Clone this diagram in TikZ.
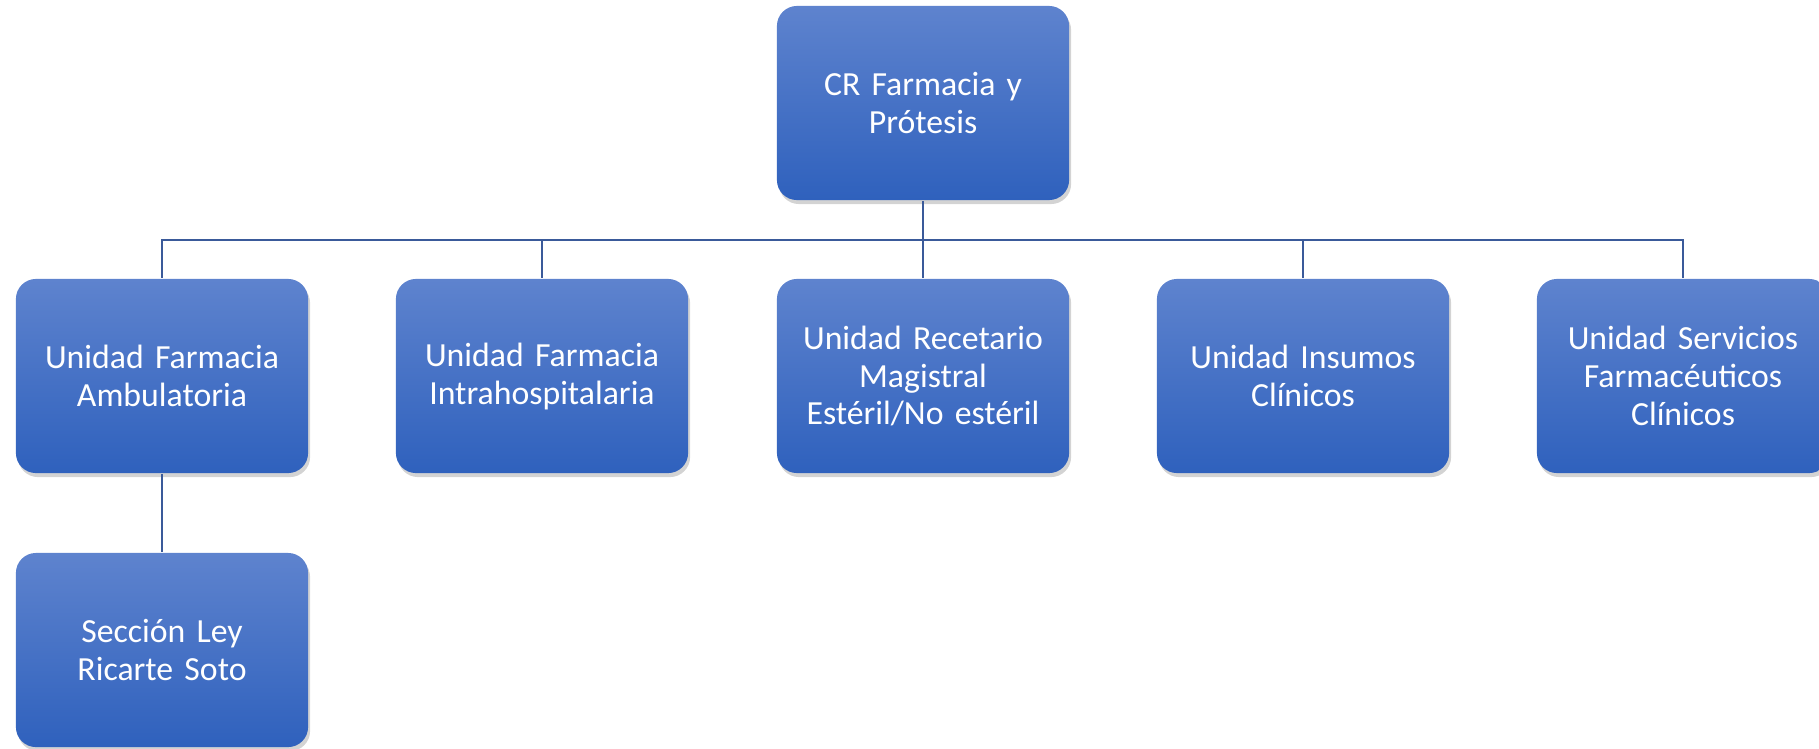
\documentclass[tikz,border=0pt]{standalone}
\usepackage{fontspec}
\setmainfont{Carlito}
\usetikzlibrary{shadows}

\definecolor{boxtop}{RGB}{94,131,206}
\definecolor{boxbot}{RGB}{47,97,189}
\definecolor{linkblue}{RGB}{58,90,154}

\tikzset{
    unitbox/.style={rectangle, rounded corners=0.2cm, inner sep=0pt,
        minimum width=2.92cm, minimum height=1.94cm, text width=2.7cm,
        align=center, top color=boxtop, bottom color=boxbot, text=white,
        font=\fontsize{9.6pt}{10.8pt}\selectfont,
        drop shadow={shadow xshift=0.02cm, shadow yshift=-0.04cm, opacity=0.35}},
    link/.style={draw=linkblue, line width=0.7pt}
}

\begin{document}
\begin{tikzpicture}[x=0.01cm, y=-0.01cm]
    \useasboundingbox (0,0) rectangle (1819,748);

    % head
    \node[unitbox] (cr) at (923,103) {CR Farmacia y\\Prótesis};

    % units
    \node[unitbox] (ufa) at (162,376) {Unidad Farmacia\\Ambulatoria};
    \node[unitbox] (ufi) at (542,376) {Unidad Farmacia\\Intrahospitalaria};
    \node[unitbox] (urm) at (923,376) {Unidad Recetario\\Magistral\\Estéril/No estéril};
    \node[unitbox] (uic) at (1303,376) {Unidad Insumos\\Clínicos};
    \node[unitbox] (usf) at (1683,376) {Unidad Servicios\\Farmacéuticos\\Clínicos};

    % section
    \node[unitbox] (slrs) at (162,650) {Sección Ley\\Ricarte Soto};

    % links
    \coordinate (bus) at (923,240);
    \draw[link] (cr.south) -- (bus);
    \foreach \u in {ufa,ufi,urm,uic,usf}
        \draw[link] (bus) -| (\u.north);
    \draw[link] (ufa.south) -- (slrs.north);
\end{tikzpicture}
\end{document}
